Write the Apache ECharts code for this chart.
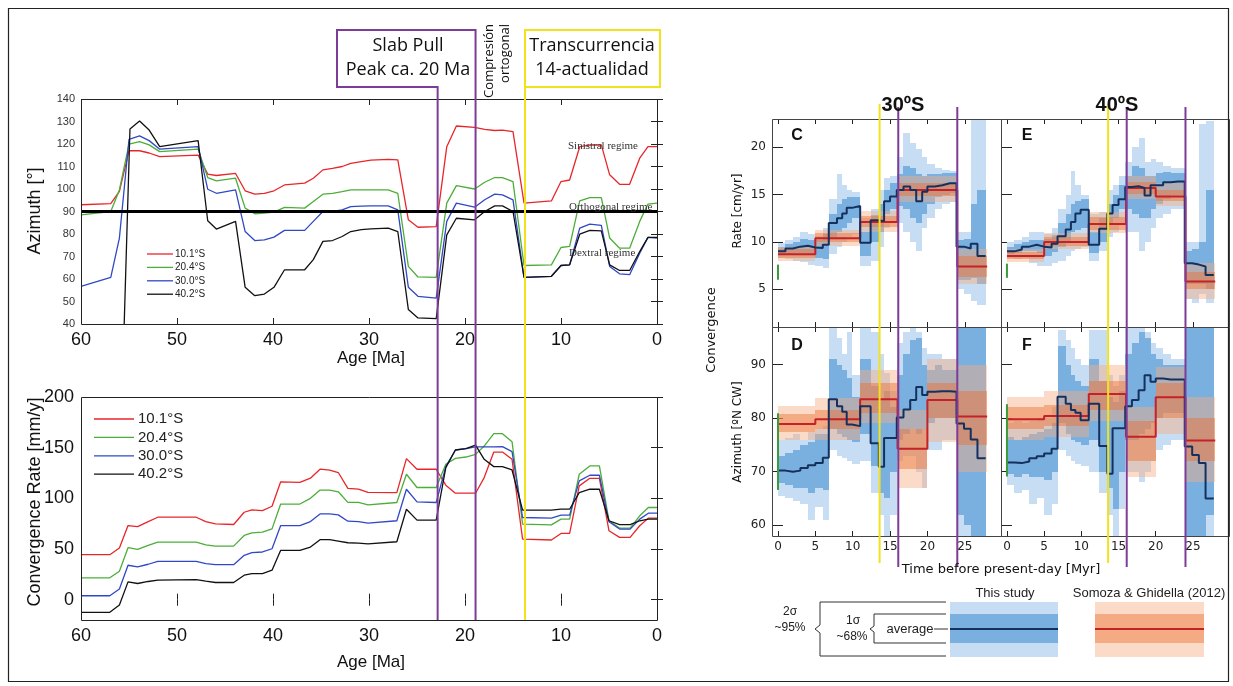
<!DOCTYPE html>
<html>
<head>
<meta charset="utf-8">
<script src="https://cdn.jsdelivr.net/npm/echarts@6/dist/echarts.min.js"></script>
<style>
  html, body { margin: 0; padding: 0; background: #fff; }
  #chart { width: 1233px; height: 686px; }
</style>
</head>
<body>
<div id="chart"></div>
<script>
// ---------------- Left panels: plate-motion azimuth and convergence rate vs age ----------------
const latitudes = ['10.1°S', '20.4°S', '30.0°S', '40.2°S'];
const latColors = ['#e8262a', '#4cae38', '#3048c6', '#111111'];

// Azimuth [°] (top panel)
const azAge = [60, 56.9, 56, 55, 53.9, 52.9, 51.8, 47.8, 46.8, 45.9, 43.9, 42.9, 41.9, 40.9, 39.9, 38.8, 36.7, 35.8, 34.8, 33.8, 32.8, 31.9, 30.8, 29.8, 28, 27, 25.9, 24.9, 23, 21.9, 20.9, 19, 17.95, 16.9, 16.1, 15, 13.85, 11, 10, 9.1, 8.05, 7, 5.8, 4.93, 3.9, 2.85, 1.8, 0.94, 0];
const az10 = [93, 93.5, 98.9, 117, 117, 116, 114.4, 115.1, 106.6, 106, 106.9, 99.2, 97.7, 98.1, 99.2, 101.8, 102.6, 104.8, 108.5, 109.2, 110, 111.4, 112.2, 112.8, 113.2, 112.9, 86.3, 83, 83.3, 118.8, 128, 127.4, 126.5, 126, 126.2, 125.5, 93.7, 94.7, 103.3, 104, 118.8, 119.5, 119.6, 106.3, 102.1, 102.1, 113.7, 118.8, 118.8];
const az20 = [88.5, 90, 99.6, 119.9, 121.1, 119.6, 116.6, 117.7, 105.1, 103.6, 104.8, 91.5, 89, 89.3, 89.7, 91.8, 91.5, 94.4, 97.7, 98.1, 98.8, 99.6, 99.6, 99.6, 99.6, 98.1, 65.6, 60.9, 60.7, 93.7, 101.5, 100, 103, 105.1, 105.1, 103.3, 66, 66.3, 74, 74.5, 94.7, 96.2, 96.2, 78.2, 73.7, 73.7, 85.6, 93.3, 93.7];
const az30 = [56.7, 60.7, 78.2, 122.1, 123.6, 121.5, 117.7, 118.8, 99.9, 98.1, 99.6, 81.1, 77.1, 77.4, 78.6, 81.6, 81.6, 85.6, 90, 90, 90.7, 92.2, 92.4, 92.5, 92.5, 90.7, 56.3, 52.3, 51.5, 85.6, 93.7, 91.9, 95.2, 97.7, 97.4, 95.2, 60.7, 61.2, 66, 66.3, 82.6, 84.4, 83.8, 65.6, 62.3, 61.9, 71.5, 78.5, 78.2];
// 40.2°S enters the panel from below near 55.5 Ma
const azAge40 = [55.5, 54.9].concat(azAge.slice(4));
const az40 = [40, 126.7, 130.2, 126.2, 118.8, 121.5, 85.9, 82.2, 85.6, 56.3, 52.6, 53.3, 56.3, 64.1, 64.1, 68.6, 76.7, 77.1, 78.9, 81.1, 81.9, 82.3, 82.6, 81.1, 46.4, 42.7, 42.4, 79.6, 87, 86.3, 90, 92.5, 92.5, 90, 60.7, 61.2, 66, 66.3, 79.9, 81.6, 81.4, 66.3, 63.8, 63.8, 72.2, 78.5, 78.5];

// Convergence rate [mm/y] (bottom panel)
const rateAge = [60, 57, 56, 55.1, 54.1, 53, 52, 48, 47, 46, 44.1, 43, 42.2, 41.1, 40.1, 39.2, 37.2, 36.1, 35.1, 34.1, 33.2, 32.2, 31.1, 30.1, 27.1, 26.1, 25, 23, 22, 21, 19.9, 18.9, 18, 17, 16.1, 15.1, 14, 11, 10, 9.1, 8.1, 7, 6, 5, 3.9, 2.8, 1.8, 0.9, 0];
const rate10 = [44.4, 44.4, 51, 73.2, 72.2, 77.1, 81.4, 81.4, 77.1, 74.8, 74.2, 86.3, 88.6, 87.9, 92.2, 116.3, 115.7, 119.9, 128.8, 127.8, 125.5, 109.8, 109.2, 105.9, 105.7, 139.2, 128.7, 128.7, 113, 105.1, 105.1, 105.1, 120.5, 145.7, 145.7, 138.5, 59.8, 58.9, 65.4, 65.4, 112.3, 119.8, 119.8, 68, 61.5, 61.5, 73, 80.5, 80.5];
const rate20 = [21.6, 21.6, 28.1, 51.3, 49.7, 53.6, 56.9, 56.9, 54.2, 52.9, 52.9, 63.4, 66, 66.7, 69.9, 94.4, 94.4, 100, 108.2, 108.2, 106.5, 96.1, 96.1, 93.5, 95.9, 123.8, 110.7, 110.7, 133.6, 139.5, 140.8, 143.4, 151.6, 163.8, 163.8, 155.9, 74.6, 73.9, 79.5, 79.5, 123.8, 132, 132, 77.9, 70.7, 70.7, 82.8, 91, 91];
const rate30 = [3.9, 3.9, 10.5, 34, 32.4, 35, 37.9, 37.9, 35.6, 34.6, 34.6, 43.8, 46.4, 47.1, 50.3, 73.2, 73.2, 77.1, 84.6, 84.6, 83.7, 77.5, 77.1, 75.5, 77.9, 109, 96.6, 95.9, 131.3, 147.7, 149, 150.7, 150.7, 150.8, 151, 146.1, 81.1, 80.5, 83.4, 83.4, 117.2, 122.8, 122.8, 76.9, 69.7, 69.7, 79.5, 85.4, 85.4];
const rate40 = [-12.4, -12.4, -5.2, 17.6, 16, 18, 19.3, 19.9, 18.3, 17, 17, 24.2, 25.8, 25.8, 29.1, 48.7, 48.7, 52, 59.2, 59.2, 57.8, 56.2, 55.9, 55.2, 57.2, 89.3, 78.5, 78.5, 130.3, 147.7, 149, 152.6, 138.5, 131.3, 131.3, 128, 88.4, 88.4, 89.3, 89.3, 105.7, 109, 109, 77.9, 74, 74, 77.9, 79.5, 79.5];

// Tectonic stages marked on the left panels [Ma]
const slabPullAge = 22.85;
const orthoCompressionAge = 18.9;
const transcurrenceAge = 13.75;

// ---------------- Right panels: 30ºS and 40ºS reconstructions ----------------
const stageEdges = [0, 1, 2, 3, 4, 5, 6, 6.8, 7.9, 8.6, 9.2, 9.9, 11, 12.4, 13.5, 14.2, 15, 15.9, 16.8, 17.7, 18.5, 19.3, 20, 21, 22, 23, 23.9, 24.9, 25.8, 26.7, 27.8];
const somozaEdges = [0, 5, 11, 16, 20, 24, 28];
const eventTimes = [13.6, 16.1, 24.0];

// C: rate at 30ºS [cm/yr]
const rate30Avg = [9.0, 9.3, 9.5, 9.6, 9.4, 9.35, 9.7, 12.0, 12.5, 13.0, 13.6, 13.8, 9.9, 12.3, 12.2, 14.3, 14.8, 15.5, 15.85, 15.5, 14.3, 15.3, 15.85, 16.0, 16.2, 16.2, 9.5, 9.3, 9.8, 8.5];
const rate30Lo1 = [8.6, 8.7, 8.8, 8.8, 8.6, 8.3, 8.2, 10.5, 11.0, 11.5, 12.0, 12.5, 8.5, 10.0, 11.0, 13.0, 13.5, 13.8, 13.5, 12.5, 12.0, 13.0, 14.0, 14.8, 15.0, 15.2, 6.0, 6.0, 6.2, 5.5];
const rate30Hi1 = [9.5, 9.8, 10.0, 10.3, 10.2, 10.2, 10.8, 13.0, 14.0, 14.5, 14.8, 14.8, 11.0, 12.8, 14.0, 15.5, 16.2, 17.2, 18.0, 17.8, 17.2, 17.0, 17.2, 17.2, 17.3, 17.3, 10.2, 10.3, 14.0, 15.5];
const rate30Lo2 = [8.3, 8.2, 8.0, 7.9, 7.6, 7.5, 7.2, 8.7, 9.5, 10.0, 10.5, 10.8, 7.5, 8.0, 9.5, 11.5, 12.0, 12.0, 11.0, 10.0, 9.0, 11.5, 12.5, 13.5, 14.0, 14.2, 5.0, 4.5, 3.8, 3.3];
const rate30Hi2 = [9.9, 10.2, 10.5, 11.0, 10.8, 10.6, 11.5, 14.5, 17.2, 16.0, 15.5, 15.3, 12.5, 13.5, 15.5, 16.8, 17.0, 19.0, 21.5, 20.5, 19.8, 19.0, 18.2, 17.8, 17.6, 17.5, 11.0, 11.0, 23.0, 23.0];
const rate30SgAvg = [8.7, 10.4, 12.1, 15.5, 15.5, 7.4];
const rate30SgLo1 = [8.3, 10.0, 11.6, 14.9, 14.9, 6.3];
const rate30SgHi1 = [9.2, 10.9, 12.7, 16.2, 16.2, 8.5];
const rate30SgLo2 = [8.0, 9.6, 11.1, 14.2, 14.2, 5.5];
const rate30SgHi2 = [9.5, 11.3, 13.3, 17.0, 17.0, 9.2];
const rate30Today = [6.0, 7.6];

// E: rate at 40ºS [cm/yr]
const rate40Avg = [9.0, 9.2, 9.5, 9.7, 9.5, 9.4, 9.8, 10.6, 11.3, 12.1, 13.0, 13.4, 9.7, 11.4, 13.0, 13.9, 14.5, 15.8, 15.9, 15.7, 14.9, 16.0, 16.0, 16.3, 16.4, 16.4, 7.75, 7.6, 7.4, 6.5];
const rate40Lo1 = [8.7, 8.8, 9.0, 9.0, 8.8, 8.5, 8.9, 9.5, 10.0, 11.0, 11.3, 11.5, 8.8, 10.0, 12.0, 12.5, 13.5, 13.5, 13.0, 12.5, 12.5, 13.5, 14.0, 14.5, 15.0, 15.0, 5.5, 5.5, 5.5, 5.0];
const rate40Hi1 = [9.5, 9.8, 10.0, 10.2, 10.2, 10.3, 10.7, 12.0, 13.0, 14.0, 14.3, 14.5, 11.0, 12.5, 14.0, 15.0, 16.0, 17.0, 18.0, 17.8, 17.0, 17.0, 17.3, 17.4, 17.3, 17.3, 9.0, 9.2, 10.0, 15.5];
const rate40Lo2 = [8.3, 8.2, 8.3, 7.8, 7.5, 7.5, 7.8, 8.0, 8.5, 9.0, 9.3, 9.5, 8.0, 9.0, 10.5, 11.0, 12.0, 11.0, 11.0, 9.0, 10.0, 11.5, 12.5, 13.0, 13.5, 13.5, 4.0, 3.5, 4.5, 3.5];
const rate40Hi2 = [10.0, 10.2, 10.5, 11.0, 11.0, 10.8, 11.5, 13.5, 15.0, 17.5, 16.0, 15.0, 13.0, 13.2, 15.5, 16.0, 17.0, 18.5, 20.0, 21.0, 18.5, 18.8, 18.5, 18.0, 17.8, 17.8, 10.0, 10.0, 22.5, 22.8];
const rate40SgAvg = [8.5, 10.0, 11.9, 15.7, 14.8, 5.8];
const rate40SgLo1 = [8.2, 9.6, 11.3, 15.1, 14.3, 5.0];
const rate40SgHi1 = [8.9, 10.5, 12.6, 16.3, 15.5, 6.8];
const rate40SgLo2 = [7.9, 9.2, 10.9, 14.5, 13.8, 4.0];
const rate40SgHi2 = [9.2, 10.9, 13.2, 17.0, 16.2, 7.8];
const rate40Today = [6.2, 7.7];

// D: azimuth at 30ºS [ºN CW]
const az30Avg = [70.2, 70.0, 70.2, 70.7, 71.2, 71.6, 72.6, 83.5, 82.2, 81.2, 78.8, 78.5, 82.2, 75.3, 70.9, 76.3, 76.3, 80.1, 81.6, 83.4, 85.8, 84.3, 84.9, 85.0, 85.0, 84.9, 79.0, 78.0, 76.0, 72.5];
const az30Lo1 = [67.8, 67.5, 67.0, 67.0, 66.0, 67.0, 66.5, 78.0, 77.0, 76.5, 76.0, 75.5, 77.0, 71.0, 66.0, 65.0, 70.0, 76.0, 77.0, 78.0, 77.0, 78.0, 79.0, 80.0, 80.0, 80.0, 62.0, 60.0, 58.0, 58.0];
const az30Hi1 = [73.0, 73.5, 74.0, 75.0, 75.5, 77.0, 77.0, 91.0, 90.0, 89.0, 87.5, 84.0, 91.0, 86.0, 83.5, 85.0, 82.0, 88.0, 92.0, 94.5, 95.0, 90.0, 89.0, 90.0, 89.0, 89.0, 97.0, 97.0, 97.0, 97.0];
const az30Lo2 = [65.5, 65.0, 64.5, 64.0, 61.0, 63.5, 61.0, 74.0, 73.0, 72.5, 72.0, 71.5, 72.0, 66.0, 62.0, 58.0, 62.0, 72.0, 73.0, 73.0, 70.0, 67.0, 74.0, 74.0, 76.0, 76.0, 58.0, 58.0, 58.0, 58.0];
const az30Hi2 = [76.0, 76.3, 77.0, 76.0, 77.5, 78.0, 78.5, 97.0, 95.0, 92.0, 96.0, 88.0, 97.0, 96.0, 92.0, 88.5, 85.0, 94.0, 96.0, 97.0, 96.0, 93.0, 92.0, 92.0, 91.0, 91.0, 97.0, 97.0, 97.0, 97.0];
const az30SgAvg = [78.9, 79.8, 83.5, 74.3, 83.4, 80.3];
const az30SgLo1 = [77.5, 78.0, 81.0, 70.5, 80.0, 75.0];
const az30SgHi1 = [80.8, 81.5, 86.5, 78.0, 86.5, 85.0];
const az30SgLo2 = [75.9, 76.0, 79.0, 67.0, 75.5, 70.0];
const az30SgHi2 = [82.2, 83.7, 89.0, 81.5, 91.0, 90.0];
const az30Today = [66.6, 80.9];

// F: azimuth at 40ºS [ºN CW]
const az40Avg = [71.7, 71.6, 71.9, 72.5, 72.9, 73.4, 74.3, 84.0, 82.7, 81.5, 81.0, 79.6, 82.7, 74.8, 69.6, 78.1, 78.1, 82.2, 83.4, 85.2, 88.0, 86.8, 87.4, 87.2, 87.2, 87.2, 74.7, 73.1, 71.6, 65.0];
const az40Lo1 = [69.5, 69.0, 69.5, 69.0, 69.0, 68.5, 70.0, 79.0, 77.0, 76.0, 75.5, 75.0, 76.0, 70.0, 67.0, 63.0, 70.0, 76.0, 76.0, 77.0, 78.0, 79.0, 80.0, 81.0, 81.0, 81.0, 58.0, 58.0, 58.0, 62.0];
const az40Hi1 = [76.5, 76.0, 76.5, 77.0, 77.5, 78.0, 79.0, 93.5, 90.0, 88.0, 87.0, 86.0, 91.0, 87.0, 84.0, 83.0, 85.0, 92.0, 94.0, 96.0, 95.0, 92.0, 91.0, 90.0, 90.0, 90.0, 97.0, 97.0, 97.0, 97.0];
const az40Lo2 = [67.5, 66.0, 66.5, 64.0, 65.0, 62.0, 64.0, 74.0, 73.0, 72.0, 71.5, 71.0, 70.0, 66.0, 62.0, 58.0, 63.0, 70.0, 70.0, 68.0, 70.0, 72.0, 74.0, 75.0, 76.0, 76.0, 58.0, 58.0, 58.0, 58.0];
const az40Hi2 = [79.0, 79.5, 79.0, 79.5, 80.0, 80.0, 82.0, 96.5, 94.5, 93.0, 91.0, 90.0, 96.5, 96.5, 88.0, 86.0, 88.0, 97.0, 97.0, 97.0, 96.0, 94.0, 93.0, 92.0, 91.0, 91.0, 97.0, 97.0, 97.0, 97.0];
const az40SgAvg = [79.8, 80.4, 84.5, 76.5, 83.9, 75.8];
const az40SgLo1 = [78.0, 78.5, 81.5, 72.0, 80.0, 72.0];
const az40SgHi1 = [82.0, 82.5, 87.0, 79.5, 86.5, 80.0];
const az40SgLo2 = [76.0, 76.5, 79.5, 69.0, 77.0, 68.0];
const az40SgHi2 = [84.0, 85.0, 90.0, 82.0, 89.5, 84.0];
const az40Today = [69.1, 82.6];

// Tick labels
const timeTicks = [0, 5, 10, 15, 20, 25];
const rateTicks = [5, 10, 15, 20];
const azTicks = [60, 70, 80, 90];
const mmTicks = [0, 50, 100, 150, 200];

// ---------------- Styling ----------------
const SANS = '"Liberation Sans", Arial, sans-serif';
const MPL = '"DejaVu Sans", sans-serif';
const MYRIAD = '"Open Sans", "Noto Sans", sans-serif';
const BLUE_2S = '#c6ddf3', BLUE_1S = '#79b0df';
const ORANGE_2S = 'rgba(248,173,133,0.45)', ORANGE_1S = 'rgba(234,111,44,0.45)';
const NAVY = '#16305e', RED = '#c42128', GREEN = '#3a9b3a';
const PURPLE = '#7d3c98', YELLOW = '#f2e21c';

const grids = [
  { left: 81, top: 99, width: 576, height: 225 },    // azimuth vs age
  { left: 81, top: 397, width: 576, height: 223 },   // rate vs age
  { left: 772, top: 119, width: 229, height: 208 },  // C
  { left: 1001, top: 119, width: 228, height: 208 }, // E
  { left: 772, top: 327, width: 229, height: 209 },  // D
  { left: 1001, top: 327, width: 228, height: 209 }  // F
];

const tick = (len) => ({ show: true, inside: true, length: len, lineStyle: { color: '#222', width: 1 } });

function xPair(g, base) {
  const bottom = Object.assign({ type: 'value', gridIndex: g, position: 'bottom',
    axisLine: { show: false }, splitLine: { show: false } }, base.common, base.bottom);
  const top = Object.assign({ type: 'value', gridIndex: g, position: 'top',
    axisLine: { show: false }, splitLine: { show: false } }, base.common, { axisLabel: { show: false } });
  return [bottom, top];
}
function yPair(g, base) {
  const left = Object.assign({ type: 'value', gridIndex: g, position: 'left',
    axisLine: { show: false }, splitLine: { show: false } }, base.common, base.left);
  const right = Object.assign({ type: 'value', gridIndex: g, position: 'right',
    axisLine: { show: false }, splitLine: { show: false } }, base.common, { axisLabel: { show: false } });
  return [left, right];
}

const ageAxis = {
  common: { min: 0, max: 60, interval: 10, inverse: true, axisTick: tick(6) },
  bottom: { axisLabel: { fontFamily: SANS, fontSize: 18, color: '#111', margin: 7 } }
};
const timeAxis = (showLabels) => ({
  common: { min: -0.8, max: 29.85, axisTick: Object.assign(tick(5), { customValues: timeTicks }) },
  bottom: { axisLabel: { show: showLabels, customValues: timeTicks, fontFamily: MPL, fontSize: 12, color: '#222', margin: 5 } }
});
const rightY = (min, max, ticks, showLabels) => ({
  common: { min, max, axisTick: Object.assign(tick(5), { customValues: ticks }) },
  left: { axisLabel: { show: showLabels, customValues: ticks, fontFamily: MPL, fontSize: 12, color: '#222', margin: 6 } }
});

const xAxis = [].concat(
  xPair(0, ageAxis), xPair(1, ageAxis),
  xPair(2, timeAxis(false)), xPair(3, timeAxis(false)),
  xPair(4, timeAxis(true)), xPair(5, timeAxis(true))
);
const yAxis = [].concat(
  yPair(0, { common: { min: 40, max: 140, interval: 10, axisTick: tick(6) },
             left: { axisLabel: { fontFamily: SANS, fontSize: 11, color: '#333', margin: 6 } } }),
  yPair(1, { common: { min: -20, max: 200, axisTick: Object.assign(tick(6), { customValues: mmTicks }) },
             left: { axisLabel: { customValues: mmTicks, fontFamily: SANS, fontSize: 18, color: '#111', margin: 7 } } }),
  yPair(2, rightY(1, 23, rateTicks, true)),
  yPair(3, rightY(1, 23, rateTicks, false)),
  yPair(4, rightY(58, 97, azTicks, true)),
  yPair(5, rightY(58, 97, azTicks, false))
);

const zip = (xs, ys) => xs.map((x, i) => [x, ys[i]]);

const series = [];
// Left panels
const azSets = [[azAge, az10], [azAge, az20], [azAge, az30], [azAge40, az40]];
const rateSets = [rate10, rate20, rate30, rate40];
latitudes.forEach((name, i) => {
  const s = {
    name, type: 'line', xAxisIndex: 0, yAxisIndex: 0, symbol: 'none', z: 3,
    lineStyle: { color: latColors[i], width: 1.3 }, itemStyle: { color: latColors[i] },
    data: zip(azSets[i][0], azSets[i][1]), animation: false
  };
  if (i === 0) {
    s.markLine = { silent: true, symbol: 'none', label: { show: false },
      lineStyle: { color: '#000', width: 3, type: 'solid' }, data: [{ yAxis: 90 }] };
  }
  series.push(s);
  series.push({
    name, type: 'line', xAxisIndex: 2, yAxisIndex: 2, symbol: 'none', z: 3,
    lineStyle: { color: latColors[i], width: 1.3 }, itemStyle: { color: latColors[i] },
    data: zip(rateAge, rateSets[i]), animation: false
  });
});

// Right panels: bands as rectangles per stage, averages as step lines
function bandRender(params, api) {
  const cs = params.coordSys;
  const a = api.coord([api.value(0), api.value(3)]);
  const b = api.coord([api.value(1), api.value(2)]);
  const x0 = Math.round(Math.max(a[0], cs.x)), x1 = Math.round(Math.min(b[0], cs.x + cs.width));
  const y0 = Math.round(Math.max(a[1], cs.y)), y1 = Math.round(Math.min(b[1], cs.y + cs.height));
  if (x1 <= x0 || y1 <= y0) return;
  return { type: 'rect', shape: { x: x0, y: y0, width: x1 - x0, height: y1 - y0 },
           style: { fill: api.visual('color') } };
}
function bands(edges, lo, hi) {
  return lo.map((v, i) => [edges[i], edges[i + 1], v, hi[i]]);
}
function steps(edges, vals) {
  const pts = vals.map((v, i) => [edges[i], v]);
  pts.push([edges[edges.length - 1], vals[vals.length - 1]]);
  return pts;
}

const panels = [
  { g: 2, avg: rate30Avg, lo1: rate30Lo1, hi1: rate30Hi1, lo2: rate30Lo2, hi2: rate30Hi2,
    sAvg: rate30SgAvg, sLo1: rate30SgLo1, sHi1: rate30SgHi1, sLo2: rate30SgLo2, sHi2: rate30SgHi2, today: rate30Today },
  { g: 3, avg: rate40Avg, lo1: rate40Lo1, hi1: rate40Hi1, lo2: rate40Lo2, hi2: rate40Hi2,
    sAvg: rate40SgAvg, sLo1: rate40SgLo1, sHi1: rate40SgHi1, sLo2: rate40SgLo2, sHi2: rate40SgHi2, today: rate40Today },
  { g: 4, avg: az30Avg, lo1: az30Lo1, hi1: az30Hi1, lo2: az30Lo2, hi2: az30Hi2,
    sAvg: az30SgAvg, sLo1: az30SgLo1, sHi1: az30SgHi1, sLo2: az30SgLo2, sHi2: az30SgHi2, today: az30Today },
  { g: 5, avg: az40Avg, lo1: az40Lo1, hi1: az40Hi1, lo2: az40Lo2, hi2: az40Hi2,
    sAvg: az40SgAvg, sLo1: az40SgLo1, sHi1: az40SgHi1, sLo2: az40SgLo2, sHi2: az40SgHi2, today: az40Today }
];
panels.forEach(p => {
  const ax = { xAxisIndex: 2 * p.g, yAxisIndex: 2 * p.g };
  const band = (data, color, z) => Object.assign({
    type: 'custom', renderItem: bandRender, itemStyle: { color }, z, silent: true,
    encode: { x: [0, 1], y: [2, 3] }, data, animation: false }, ax);
  series.push(band(bands(stageEdges, p.lo2, p.hi2), BLUE_2S, 1));
  series.push(band(bands(stageEdges, p.lo1, p.hi1), BLUE_1S, 1));
  series.push(band(bands(somozaEdges, p.sLo2, p.sHi2), ORANGE_2S, 1));
  series.push(band(bands(somozaEdges, p.sLo1, p.sHi1), ORANGE_1S, 1));
  series.push(Object.assign({ type: 'line', step: 'end', symbol: 'none', z: 3, silent: true,
    lineStyle: { color: RED, width: 2 }, data: steps(somozaEdges, p.sAvg), animation: false }, ax));
  series.push(Object.assign({ type: 'line', step: 'end', symbol: 'none', z: 4, silent: true,
    lineStyle: { color: NAVY, width: 2 }, data: steps(stageEdges, p.avg), animation: false }, ax));
  series.push(Object.assign({ type: 'line', symbol: 'none', z: 5, silent: true,
    lineStyle: { color: GREEN, width: 2 }, data: [[0, p.today[0]], [0, p.today[1]]], animation: false }, ax));
});

const option = {
  animation: false,
  backgroundColor: '#ffffff',
  grid: grids,
  xAxis, yAxis,
  series
};

const chart = echarts.init(document.getElementById('chart'));
chart.setOption(option);

// ---------------- Annotations, frames, stage markers, keys ----------------
const gfx = [];
function label(x, y, str, font, extra) {
  extra = extra || {};
  gfx.push({ type: 'text', x, y, rotation: extra.rotation || 0, z: 100, silent: true,
    style: { text: str, font, fill: extra.fill || '#111',
             textAlign: extra.align || 'center', textVerticalAlign: extra.valign || 'middle' } });
}
function poly(points, color, width, z) {
  gfx.push({ type: 'polyline', z: z || 100, silent: true, shape: { points },
    style: { stroke: color, lineWidth: width, fill: null } });
}
function rect(x, y, w, h, fill, z) {
  gfx.push({ type: 'rect', z: z || 90, silent: true, shape: { x, y, width: w, height: h }, style: { fill } });
}
function frame(g, color) {
  gfx.push({ type: 'rect', z: 60, silent: true,
    shape: { x: g.left + 0.5, y: g.top + 0.5, width: g.width, height: g.height },
    style: { fill: 'none', stroke: color, lineWidth: 1 } });
}

// figure border
gfx.push({ type: 'rect', z: 100, silent: true, shape: { x: 8.5, y: 8.5, width: 1220, height: 673 },
  style: { fill: 'none', stroke: '#222', lineWidth: 1.2 } });

grids.forEach((g, i) => frame(g, i < 2 ? '#222' : '#444'));

// latitude keys of the left panels
latitudes.forEach((name, i) => {
  const yTop = 254 + i * 13.4;
  poly([[147, yTop], [173, yTop]], latColors[i], 1.3);
  label(175, yTop, name, '10px ' + SANS, { align: 'left', fill: '#222' });
  const yBot = 419 + i * 18.4;
  poly([[94, yBot], [134, yBot]], latColors[i], 1.3);
  label(138, yBot, name, '15px ' + SANS, { align: 'left', fill: '#222' });
});

// left-panel axis titles
label(35, 211, 'Azimuth [°]', '18px ' + SANS, { rotation: Math.PI / 2 });
label(35, 502, 'Convergence Rate [mm/y]', '18px ' + SANS, { rotation: Math.PI / 2 });
label(371, 358, 'Age [Ma]', '17px ' + SANS);
label(371, 662, 'Age [Ma]', '17px ' + SANS);

// regime annotations
label(568, 146, 'Sinistral regime', '11px "Liberation Serif", serif', { align: 'left', fill: '#333' });
label(569, 207, 'Orthogonal regime', '11px "Liberation Serif", serif', { align: 'left', fill: '#333' });
label(569, 253, 'Dextral regime', '11px "Liberation Serif", serif', { align: 'left', fill: '#333' });

// stage markers on the left panels
const ageX = (a) => chart.convertToPixel({ xAxisIndex: 0 }, a);
const xSlab = ageX(slabPullAge), xOrtho = ageX(orthoCompressionAge), xTrans = ageX(transcurrenceAge);
poly([[xSlab, 620], [xSlab, 87], [337, 87], [337, 30], [xOrtho, 30], [xOrtho, 620]], PURPLE, 2);
poly([[xTrans, 620], [xTrans, 30], [660, 30], [660, 87], [xTrans, 87]], YELLOW, 2);
label(408, 46, 'Slab Pull', '18px ' + MYRIAD);
label(408, 70, 'Peak ca. 20 Ma', '18px ' + MYRIAD);
label(592, 46, 'Transcurrencia', '18px ' + MYRIAD);
label(592, 70, '14-actualidad', '18px ' + MYRIAD);
label(489, 24, 'Compresión', '13px ' + MYRIAD, { rotation: Math.PI / 2, align: 'right' });
label(505, 24, 'ortogonal', '13px ' + MYRIAD, { rotation: Math.PI / 2, align: 'right' });

// right-panel titles and labels
label(903, 105, '30ºS', 'bold 20px ' + SANS);
label(1117, 105, '40ºS', 'bold 20px ' + SANS);
label(797, 136, 'C', 'bold 16px ' + SANS);
label(1027, 136, 'E', 'bold 16px ' + SANS);
label(797, 346, 'D', 'bold 16px ' + SANS);
label(1027, 346, 'F', 'bold 16px ' + SANS);
label(712, 330, 'Convergence', '13px ' + MPL, { rotation: Math.PI / 2 });
label(738, 211, 'Rate [cm/yr]', '12px ' + MPL, { rotation: Math.PI / 2 });
label(738, 432, 'Azimuth [ºN CW]', '12px ' + MPL, { rotation: Math.PI / 2 });
label(1001, 570, 'Time before present-day [Myr]', '13px ' + MPL);

// stage markers on the right panels
[4, 6].forEach(axisIdx => {
  eventTimes.forEach((t, k) => {
    const x = chart.convertToPixel({ xAxisIndex: axisIdx }, t);
    poly([[x, k === 0 ? 104 : 107], [x, k === 0 ? 563 : 567]], k === 0 ? YELLOW : PURPLE, 2, 70);
  });
});

// key for the uncertainty bands
rect(950, 602, 108, 55, BLUE_2S);
rect(950, 614, 108, 29, BLUE_1S);
poly([[950, 629], [1058, 629]], NAVY, 2);
rect(1095, 602, 109, 55, 'rgb(252,218,200)');
rect(1095, 614, 109, 29, 'rgb(244,170,130)');
poly([[1095, 629], [1204, 629]], RED, 2);
label(1005, 593, 'This study', '13px ' + SANS, { fill: '#222' });
label(1149, 593, 'Somoza & Ghidella (2012)', '13px ' + SANS, { fill: '#222' });
poly([[946, 602], [820, 602], [820, 625], [815, 629], [820, 633], [820, 656], [946, 656]], '#333', 1);
poly([[946, 614], [874, 614], [874, 626], [870, 629], [874, 632], [874, 643], [946, 643]], '#333', 1);
poly([[934, 629], [948, 629]], '#333', 1);
label(910, 629, 'average', '13px ' + SANS, { fill: '#222' });
label(853, 621, '1σ', '12px ' + SANS, { fill: '#222' });
label(852, 637, '~68%', '12px ' + SANS, { fill: '#222' });
label(790, 612, '2σ', '12px ' + SANS, { fill: '#222' });
label(790, 628, '~95%', '12px ' + SANS, { fill: '#222' });

chart.setOption({ graphic: { elements: gfx } });
</script>
</body>
</html>
